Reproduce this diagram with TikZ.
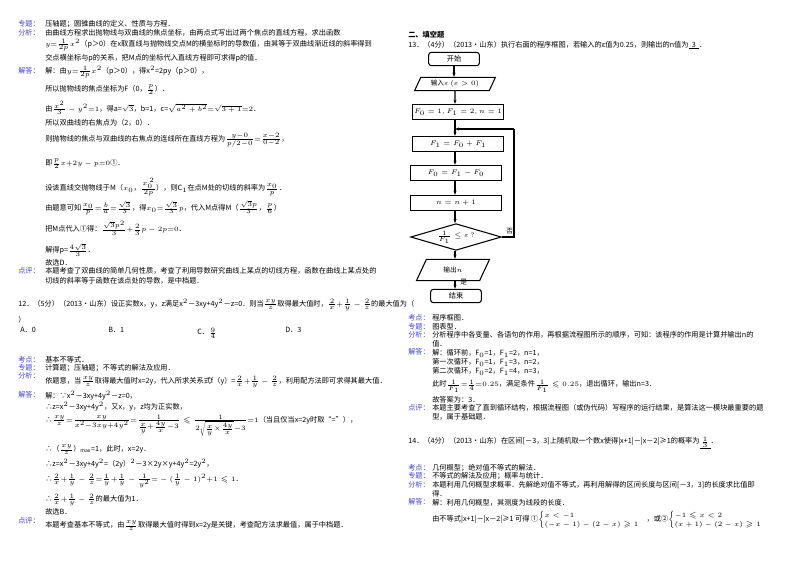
\documentclass[tikz,border=0pt]{standalone}
\usepackage{fontspec}
\usepackage{amsmath,amssymb}
\setmainfont{Noto Sans CJK SC}
\usetikzlibrary{shapes.geometric,arrows.meta}
\definecolor{lab}{RGB}{70,70,200}
\tikzset{
 t/.style={anchor=west,inner sep=0pt,font=\fontsize{5.4}{6.5}\selectfont},
 l/.style={t,text=lab},
 fbox/.style={draw,thick,minimum width=68.5pt,minimum height=11.5pt,inner sep=0pt,font=\fontsize{4.6}{5.5}\selectfont},
 rbox/.style={draw,thick,rounded corners=2pt,minimum width=38pt,minimum height=10pt,inner sep=0pt,font=\fontsize{5.4}{6.5}\selectfont},
 pbox/.style={draw,thick,trapezium,trapezium left angle=65,trapezium right angle=115,minimum width=55pt,minimum height=10pt,inner sep=1pt,font=\fontsize{5}{6}\selectfont},
 dbox/.style={draw,thick,diamond,aspect=3.4,minimum width=68pt,minimum height=20pt,inner sep=0pt,font=\fontsize{4.6}{5.5}\selectfont},
 ar/.style={thick,-{Stealth[length=3pt]}}
}
\begin{document}
\begin{tikzpicture}[x=0.75pt,y=-0.75pt]
\useasboundingbox (0,0) rectangle (800,565);
\fill[white] (0,0) rectangle (800,565);
% ---------- left column ----------
\node[l] (a1) at (18,24) {专题：};
\node[t] (b1) at (45,24) {压轴题；圆锥曲线的定义、性质与方程．};
\node[l] (a2) at (18,33) {分析：};
\node[t] (b2) at (45,33) {由曲线方程求出抛物线与双曲线的焦点坐标，由两点式写出过两个焦点的直线方程，求出函数};
\node[t] (b3) at (45,45) {$y{=}\frac{1}{2p}x^2$（p＞0）在x取直线与抛物线交点M的横坐标时的导数值，由其等于双曲线渐近线的斜率得到};
\node[t] (b4) at (45,58) {交点横坐标与p的关系，把M点的坐标代入直线方程即可求得p的值．};
\node[l] (a3) at (18,71) {解答：};
\node[t] (b5) at (45,72) {解：由$y{=}\frac{1}{2p}x^2$（p＞0），得x$^2$=2py（p＞0），};
\node[t] (b6) at (45,90) {所以抛物线的焦点坐标为F（0，$\frac{p}{2}$）．};
\node[t] (b7) at (45,108) {由$\frac{x^2}{3}-y^2{=}1$，得a=$\sqrt3$，b=1，c=$\sqrt{a^2+b^2}{=}\sqrt{3+1}{=}2$．};
\node[t] (b8) at (45,123) {所以双曲线的右焦点为（2，0）．};
\node[t] (b9) at (45,140) {则抛物线的焦点与双曲线的右焦点的连线所在直线方程为$\frac{y-0}{p/2-0}{=}\frac{x-2}{0-2}$，};
\node[t] (b10) at (45,164) {即$\frac{p}{2}x{+}2y-p{=}0$①．};
\node[t] (b11) at (45,187) {设该直线交抛物线于M（$x_0$，$\frac{x_0^{\,2}}{2p}$），则C$_1$在点M处的切线的斜率为$\frac{x_0}{p}$．};
\node[t] (b12) at (45,208) {由题意可知$\frac{x_0}{p}{=}\frac{b}{a}{=}\frac{\sqrt3}{3}$，得$x_0{=}\frac{\sqrt3}{3}p$，代入M点得M（$\frac{\sqrt3p}{3}$，$\frac{p}{6}$）};
\node[t] (b13) at (45,228) {把M点代入①得：$\frac{\sqrt3p^2}{3}{+}\frac{2}{3}p-2p{=}0$．};
\node[t] (b14) at (45,250) {解得p=$\frac{4\sqrt3}{3}$．};
\node[t] (b15) at (45,263) {故选D．};
\node[l] (a4) at (18,271) {点评：};
\node[t] (b16) at (45,271) {本题考查了双曲线的简单几何性质，考查了利用导数研究曲线上某点的切线方程，函数在曲线上某点处的};
\node[t] (b17) at (45,281) {切线的斜率等于函数在该点处的导数，是中档题．};
\node[t] (c1) at (18,305) {12．（5分）（2013•山东）设正实数x，y，z满足x$^2$－3xy+4y$^2$－z=0．则当$\frac{xy}{z}$取得最大值时，$\frac{2}{x}{+}\frac{1}{y}-\frac{2}{z}$的最大值为（};
\node[t] (c2) at (18,320) {）};
\node[t] (c3) at (20,330) {A．0};
\node[t] (c4) at (108,330) {B．1};
\node[t] (c5) at (197,333) {C．$\frac{9}{4}$};
\node[t] (c6) at (285,330) {D．3};
\node[l] (a5) at (18,360) {考点：};
\node[t] (d1) at (45,360) {基本不等式．};
\node[l] (a6) at (18,368) {专题：};
\node[t] (d2) at (45,368) {计算题；压轴题；不等式的解法及应用．};
\node[l] (a7) at (18,376) {分析：};
\node[t] (d3) at (45,382) {依题意，当$\frac{xy}{z}$取得最大值时x=2y，代入所求关系式f（y）=$\frac{2}{x}{+}\frac{1}{y}-\frac{2}{z}$，利用配方法即可求得其最大值．};
\node[l] (a8) at (18,395) {解答：};
\node[t] (d4) at (45,396) {解：∵x$^2$－3xy+4y$^2$－z=0，};
\node[t] (d5) at (45,407) {∴z=x$^2$－3xy+4y$^2$，又x，y，z均为正实数，};
\node[t] (d6) at (45,426) {∴$\frac{xy}{z}{=}\frac{xy}{x^2-3xy+4y^2}{=}\frac{1}{\frac{x}{y}+\frac{4y}{x}-3}\leqslant\frac{1}{2\sqrt{\frac{x}{y}\times\frac{4y}{x}}-3}{=}1$（当且仅当x=2y时取“=”），};
\node[t] (d7) at (45,450) {∴（$\frac{xy}{z}$）$_{\max}$=1，此时，x=2y．};
\node[t] (d8) at (45,464) {∴z=x$^2$－3xy+4y$^2$=（2y）$^2$－3×2y×y+4y$^2$=2y$^2$，};
\node[t] (d9) at (45,481) {∴$\frac{2}{x}{+}\frac{1}{y}-\frac{2}{z}{=}\frac{1}{y}{+}\frac{1}{y}-\frac{1}{y^2}{=}-(\frac{1}{y}-1)^2{+}1\leqslant1$．};
\node[t] (d10) at (45,500) {∴$\frac{2}{x}{+}\frac{1}{y}-\frac{2}{z}$的最大值为1．};
\node[t] (d11) at (45,512) {故选B．};
\node[l] (a9) at (18,521) {点评：};
\node[t] (d12) at (45,526) {本题考查基本不等式，由$\frac{xy}{z}$取得最大值时得到x=2y是关键，考查配方法求最值，属于中档题．};
% ---------- right column ----------
\node[t,font=\bfseries\fontsize{5.4}{6.5}\selectfont] (e0) at (408,35) {二、填空题};
\node[t] (e1) at (408,45) {13．（4分）（2013•山东）执行右面的程序框图，若输入的ε值为0.25，则输出的n值为\underline{\ \ 3\ \ }．};
\node[rbox] (s) at (454,59) {开始};
\node[pbox] (in) at (455,84) {输入$\varepsilon\,(\varepsilon>0)$};
\node[fbox] (f0) at (458,112) {$F_0=1,F_1=2,n=1$};
\node[fbox] (f1) at (458,144) {$F_1=F_0+F_1$};
\node[fbox] (f2) at (456,173) {$F_0=F_1-F_0$};
\node[fbox] (f3) at (456,203) {$n=n+1$};
\node[dbox] (dd) at (456,237) {$\frac{1}{F_1}\leq\varepsilon\,?$};
\node[pbox] (out) at (453,270) {输出$n$};
\node[rbox] (e) at (456,296) {结束};
\coordinate (j) at (455,129);
\coordinate (r1) at (514,237);
\coordinate (r2) at (514,129);
\draw[ar] (s) -- (s|-in.north);
\draw[ar] (in) -- (in|-f0.north);
\draw[thick] (f0.south-|j) -- (j);
\draw[ar] (j) -- (j|-f1.north);
\draw[ar] (f1.south-|j) -- (j|-f2.north);
\draw[ar] (f2.south-|j) -- (j|-f3.north);
\draw[ar] (f3.south-|j) -- (j|-dd.north);
\draw[ar] (dd.south-|j) -- (j|-out.north);
\draw[ar] (out.south-|j) -- (j|-e.north);
\draw[thick] (dd.east) -- (r1) -- (r2);
\draw[ar] (r2) -- (j);
\node[t,font=\fontsize{5}{6}\selectfont] (no) at (506,231) {否};
\node[t,font=\fontsize{5}{6}\selectfont] (yes) at (460,282) {是};
\node[l] (g1) at (408,318) {考点：};
\node[t] (h1) at (432,318) {程序框图．};
\node[l] (g2) at (408,327) {专题：};
\node[t] (h2) at (432,327) {图表型．};
\node[l] (g3) at (408,335) {分析：};
\node[t] (h3) at (432,335) {分析程序中各变量、各语句的作用，再根据流程图所示的顺序，可知：该程序的作用是计算并输出n的};
\node[t] (h4) at (432,344) {值．};
\node[l] (g4) at (408,352) {解答：};
\node[t] (h5) at (432,353) {解：循环前，F$_0$=1，F$_1$=2，n=1，};
\node[t] (h6) at (432,362) {第一次循环，F$_0$=1，F$_1$=3，n=2，};
\node[t] (h7) at (432,371) {第二次循环，F$_0$=2，F$_1$=4，n=3，};
\node[t] (h8) at (432,386) {此时$\frac{1}{F_1}{=}\frac{1}{4}{=}0.25$，满足条件$\frac{1}{F_1}\leqslant0.25$，退出循环，输出n=3．};
\node[t] (h9) at (432,400) {故答案为：3．};
\node[l] (g5) at (408,408) {点评：};
\node[t] (h10) at (432,408) {本题主要考查了直到循环结构，根据流程图（或伪代码）写程序的运行结果，是算法这一模块最重要的题};
\node[t] (h11) at (432,417) {型，属于基础题．};
\node[t] (k1) at (408,443) {14．（4分）（2013•山东）在区间[－3，3]上随机取一个数x使得|x+1|－|x－2|≥1的概率为\underline{\ $\frac{1}{3}$\ }．};
\node[l] (g6) at (408,468) {考点：};
\node[t] (m1) at (432,468) {几何概型；绝对值不等式的解法．};
\node[l] (g7) at (408,476) {专题：};
\node[t] (m2) at (432,476) {不等式的解法及应用；概率与统计．};
\node[l] (g8) at (408,485) {分析：};
\node[t] (m3) at (432,485) {本题利用几何概型求概率．先解绝对值不等式，再利用解得的区间长度与区间[－3，3]的长度求比值即};
\node[t] (m4) at (432,494) {得．};
\node[l] (g9) at (408,502) {解答：};
\node[t] (m5) at (432,503) {解：利用几何概型，其测度为线段的长度．};
\node[t] (m6) at (432,520) {由不等式|x+1|－|x－2|≥1 可得 ①$\left\{\begin{array}{@{}l}x<-1\\(-x-1)-(2-x)\geqslant1\end{array}\right.$，或②$\left\{\begin{array}{@{}l}-1\leqslant x<2\\(x+1)-(2-x)\geqslant1\end{array}\right.$};
\end{tikzpicture}
\end{document}
